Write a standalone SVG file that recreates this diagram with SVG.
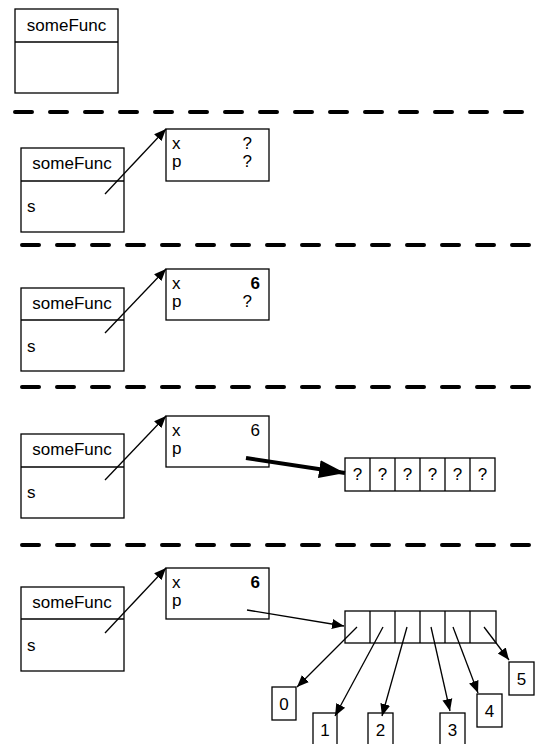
<svg xmlns="http://www.w3.org/2000/svg" width="541" height="744" viewBox="0 0 541 744">
<style>
text{font-family:"Liberation Sans",Arial,Helvetica,sans-serif;font-size:17px;fill:#000}
.b{fill:#fff;stroke:#000;stroke-width:1.3}
.dl{stroke:#000;stroke-width:1.3}
.dash{stroke:#000;stroke-width:4;stroke-dasharray:17 18;stroke-linecap:round;fill:none}
.ar{stroke:#000;stroke-width:1.3;fill:none;marker-end:url(#ah)}
.ark{stroke:#000;stroke-width:4;fill:none;marker-end:url(#ahk)}
.c{text-anchor:middle}
.e{text-anchor:end}
.bold{font-weight:bold}
</style>
<defs>
<marker id="ah" markerUnits="userSpaceOnUse" markerWidth="14" markerHeight="12" refX="12" refY="5" orient="auto" viewBox="0 0 14 10"><path d="M0,0 L12,5 L0,10 Z" fill="#000"/></marker>
<marker id="ahk" markerUnits="userSpaceOnUse" markerWidth="28" markerHeight="20" refX="26" refY="9" orient="auto" viewBox="0 0 28 18"><path d="M0,0 L26,9 L0,18 Z" fill="#000"/></marker>
</defs>

<g id="separators">
<line class="dash" x1="15" y1="112" x2="530" y2="112"/>
<line class="dash" x1="22" y1="245" x2="537" y2="245"/>
<line class="dash" x1="22" y1="387" x2="537" y2="387"/>
<line class="dash" x1="22" y1="545" x2="537" y2="545"/>
</g>

<g id="frame1">
<rect class="b" x="15" y="9" width="103" height="84"/>
<line class="dl" x1="15" y1="42" x2="118" y2="42"/>
<text class="c" x="66.5" y="31">someFunc</text>
</g>

<g id="frame2">
<rect class="b" x="21" y="148" width="103" height="84"/>
<line class="dl" x1="21" y1="181" x2="124" y2="181"/>
<text class="c" x="72" y="169">someFunc</text>
<text x="27" y="212">s</text>
</g>
<g id="obj2">
<rect class="b" x="166" y="129" width="103" height="52"/>
<text x="172" y="149">x</text>
<text x="172" y="167">p</text>
<text class="e" x="252" y="149">?</text>
<text class="e" x="252" y="167">?</text>
</g>

<g id="frame3">
<rect class="b" x="21" y="288" width="103" height="83"/>
<line class="dl" x1="21" y1="320" x2="124" y2="320"/>
<text class="c" x="72" y="309">someFunc</text>
<text x="27" y="352">s</text>
</g>
<g id="obj3">
<rect class="b" x="166" y="269" width="103" height="51"/>
<text x="172" y="289">x</text>
<text x="172" y="307">p</text>
<text class="e bold" x="260" y="289">6</text>
<text class="e" x="252" y="307">?</text>
</g>

<g id="frame4">
<rect class="b" x="21" y="434" width="103" height="84"/>
<line class="dl" x1="21" y1="467" x2="124" y2="467"/>
<text class="c" x="72" y="455">someFunc</text>
<text x="27" y="498">s</text>
</g>
<g id="obj4">
<rect class="b" x="166" y="416" width="103" height="51"/>
<text x="172" y="436">x</text>
<text x="172" y="454">p</text>
<text class="e" x="260" y="436">6</text>
</g>
<g id="array4">
<rect class="b" x="345" y="458" width="150" height="33"/>
<line class="dl" x1="370" y1="458" x2="370" y2="491"/>
<line class="dl" x1="395" y1="458" x2="395" y2="491"/>
<line class="dl" x1="420" y1="458" x2="420" y2="491"/>
<line class="dl" x1="445" y1="458" x2="445" y2="491"/>
<line class="dl" x1="470" y1="458" x2="470" y2="491"/>
<text class="c" x="357.5" y="480">?</text>
<text class="c" x="382.5" y="480">?</text>
<text class="c" x="407.5" y="480">?</text>
<text class="c" x="432.5" y="480">?</text>
<text class="c" x="457.5" y="480">?</text>
<text class="c" x="482.5" y="480">?</text>
</g>

<g id="frame5">
<rect class="b" x="21" y="587" width="103" height="84"/>
<line class="dl" x1="21" y1="619" x2="124" y2="619"/>
<text class="c" x="72" y="608">someFunc</text>
<text x="27" y="651">s</text>
</g>
<g id="obj5">
<rect class="b" x="166" y="568" width="103" height="51"/>
<text x="172" y="588">x</text>
<text x="172" y="606">p</text>
<text class="e bold" x="260" y="588">6</text>
</g>
<g id="array5">
<rect class="b" x="345" y="611" width="151" height="32"/>
<line class="dl" x1="370" y1="611" x2="370" y2="643"/>
<line class="dl" x1="395" y1="611" x2="395" y2="643"/>
<line class="dl" x1="420" y1="611" x2="420" y2="643"/>
<line class="dl" x1="445" y1="611" x2="445" y2="643"/>
<line class="dl" x1="470" y1="611" x2="470" y2="643"/>
</g>
<g id="v0"><rect class="b" x="272" y="687" width="24" height="33"/><text class="c" x="284" y="710">0</text></g>
<g id="v1"><rect class="b" x="313" y="713" width="24" height="33"/><text class="c" x="325" y="736">1</text></g>
<g id="v2"><rect class="b" x="368" y="713" width="25" height="33"/><text class="c" x="380.5" y="736">2</text></g>
<g id="v3"><rect class="b" x="440" y="713" width="25" height="33"/><text class="c" x="452.5" y="736">3</text></g>
<g id="v4"><rect class="b" x="477" y="694" width="25" height="33"/><text class="c" x="489.5" y="717">4</text></g>
<g id="v5"><rect class="b" x="509" y="662" width="25" height="33"/><text class="c" x="521.5" y="685">5</text></g>

<g id="connectors">
<line class="ar" x1="105" y1="194" x2="166" y2="129"/>
<line class="ar" x1="105" y1="333" x2="166" y2="269"/>
<line class="ar" x1="105" y1="480" x2="166" y2="416"/>
<line class="ar" x1="105" y1="633" x2="166" y2="568"/>
<line class="ark" x1="246" y1="458" x2="345" y2="473"/>
<line class="ar" x1="247" y1="610" x2="344" y2="626"/>
<line class="ar" x1="357" y1="627" x2="297" y2="687"/>
<line class="ar" x1="383" y1="627" x2="335" y2="716"/>
<line class="ar" x1="407" y1="627" x2="382" y2="716"/>
<line class="ar" x1="431" y1="627" x2="450" y2="711"/>
<line class="ar" x1="453" y1="627" x2="478" y2="693"/>
<line class="ar" x1="484" y1="627" x2="509" y2="660"/>
</g>
</svg>
